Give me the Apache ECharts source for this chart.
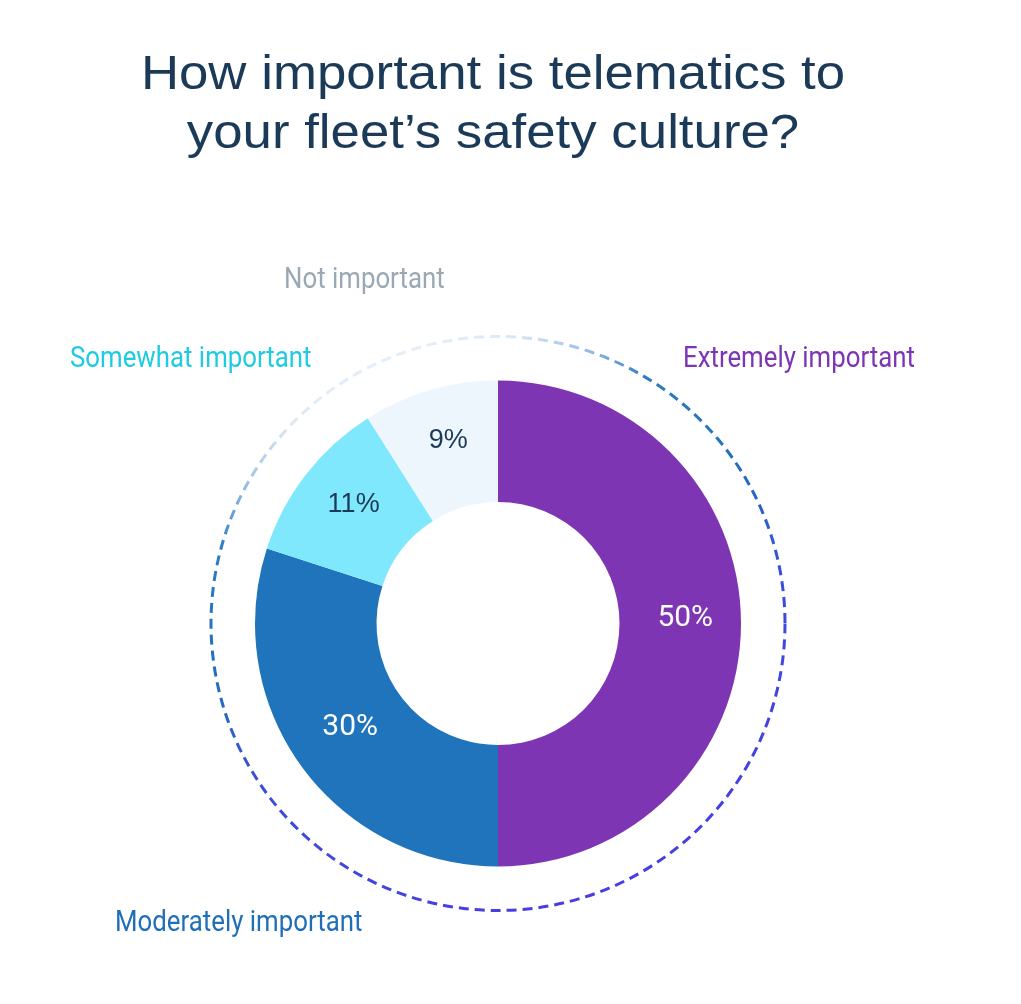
<!DOCTYPE html>
<html>
<head>
<meta charset="utf-8">
<style>
html,body{margin:0;padding:0;background:#fff;}
#chart{width:1021px;height:1004px;}
</style>
<script src="https://cdn.jsdelivr.net/npm/echarts@6/dist/echarts.min.js"></script>
</head>
<body>
<div id="chart"></div>
<script>
const titleLines = ['How important is telematics to', 'your fleet\u2019s safety culture?'];
const categories = ['Extremely important', 'Moderately important', 'Somewhat important', 'Not important'];
const values = [50, 30, 11, 9];
const sliceColors = ['#7d35b4', '#1f74bb', '#80e8fc', '#eef6fd'];
const nameColors = ['#7b35b5', '#1f6fb8', '#1fcbe0', '#9aa8b5'];
const pctColors = ['#ffffff', '#ffffff', '#1b3a57', '#1b3a57'];

const chart = echarts.init(document.getElementById('chart'), null, {renderer: 'canvas'});

const cx = 498, cy = 623.5;

// category name labels placed around the ring
const namePos = [
  {x: 683, y: 360},
  {x: 115, y: 924},
  {x: 70, y: 360},
  {x: 284, y: 281}
];

const nameTexts = categories.map((c, i) => ({
  type: 'text',
  x: namePos[i].x,
  y: namePos[i].y,
  scaleX: 0.89,
  style: {
    text: c,
    fontFamily: 'Roboto',
    fontSize: 29,
    fill: nameColors[i],
    textAlign: 'left',
    textVerticalAlign: 'middle'
  },
  silent: true
}));

const dashRing = {
  type: 'circle',
  shape: {cx: cx, cy: cy, r: 287},
  style: {
    fill: 'none',
    stroke: new echarts.graphic.LinearGradient(0.3, 0, 0.7, 1, [
      {offset: 0, color: '#eef4fa'},
      {offset: 0.08, color: '#dbe8f5'},
      {offset: 0.14, color: '#9fc2e6'},
      {offset: 0.22, color: '#2f7cc4'},
      {offset: 0.4, color: '#1f70bb'},
      {offset: 0.6, color: '#3a4ddb'},
      {offset: 1, color: '#4a3be3'}
    ]),
    lineWidth: 3,
    lineDash: [10, 6]
  },
  silent: true,
  z: -1
};

const titleTexts = titleLines.map((t, i) => ({
  type: 'text',
  x: 493,
  y: 76 + i * 59,
  scaleX: 1.1,
  style: {
    text: t,
    fontFamily: 'Liberation Sans',
    fontSize: 48,
    fill: '#1b3a57',
    textAlign: 'center',
    textVerticalAlign: 'middle'
  },
  silent: true
}));

const option = {
  backgroundColor: '#ffffff',
  animation: false,
  graphic: {elements: [dashRing].concat(nameTexts, titleTexts)},
  series: [{
    type: 'pie',
    center: [cx, cy],
    radius: [121.5, 243],
    startAngle: 90,
    clockwise: true,
    avoidLabelOverlap: false,
    emphasis: {disabled: true},
    itemStyle: {borderWidth: 0},
    labelLine: {show: false},
    label: {
      show: true,
      position: 'inside',
      formatter: '{c}%',
      offset: [2, -5]
    },
    data: categories.map((c, i) => ({
      name: c,
      value: values[i],
      itemStyle: {color: sliceColors[i]},
      label: {
        color: pctColors[i],
        fontSize: i < 2 ? 30 : 27,
        fontFamily: i < 2 ? 'Roboto' : 'Liberation Sans'
      }
    }))
  }]
};
chart.setOption(option);
</script>
</body>
</html>
